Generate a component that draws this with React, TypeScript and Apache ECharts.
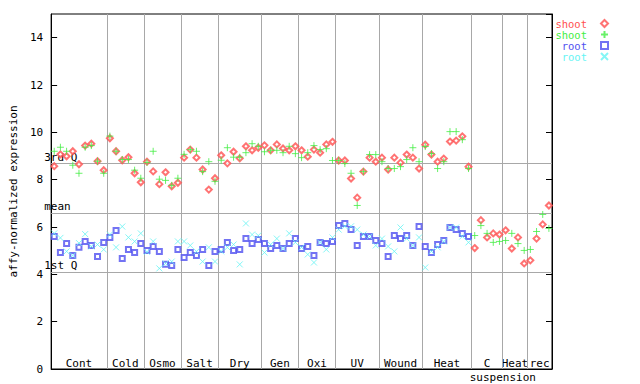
import React, { useEffect, useRef } from "react";
import * as echarts from "echarts";

const SECTIONS = ["Cont", "Cold", "Osmo", "Salt", "Dry", "Gen", "Oxi", "UV", "Wound", "Heat", "C", "Heat", "rec"];
const SECTION_COUNTS = [9, 6, 6, 6, 7, 6, 6, 7, 7, 8, 5, 4, 4];
const GROUP_LABEL = "suspension";
const GROUP_START_SECTION = 10;

const QUARTILES = [
  { name: "3rd Q", value: 8.68 },
  { name: "mean", value: 6.59 },
  { name: "1st Q", value: 4.08 },
];

const Y_TICKS = { min: 0, max: 15, interval: 2 };

const shoot1 = [
  8.57, 9.07, 8.99, 9.2, 8.65, 9.44, 9.52, 8.78, 8.4,
  9.75, 9.2, 8.82, 8.95, 8.27, 7.89,
  8.76, 8.35, 7.81, 8.31, 7.72, 7.87,
  8.93, 9.27, 8.93, 8.43, 7.58, 8.06,
  9.03, 8.69, 9.18, 8.9, 9.41, 9.24, 9.35,
  9.45, 9.24, 9.49, 9.32, 9.24, 9.41,
  9.24, 8.97, 9.27, 9.14, 9.49, 9.6,
  8.81, 8.81, 8.05, 7.24, 8.34, 8.93, 8.76,
  8.93, 8.43, 8.93, 8.72, 9.06, 8.93, 8.47,
  9.48, 9.06, 8.76, 8.89, 9.61, 9.65, 9.83, 8.55,
  5.11, 6.29, 5.56, 5.73, 5.68,
  5.86, 5.09, 5.56, 4.46,
  4.59, 5.51, 6.11, 6.91,
];

const shoot2 = [
  9.2, 9.37, 9.2, 8.61, 8.27, 9.37, 9.44, 8.78, 8.27,
  9.84, 9.2, 8.85, 8.85, 8.4, 8.06,
  8.73, 9.2, 8.02, 7.97, 7.76, 8.06,
  9.07, 9.27, 9.2, 8.34, 8.76, 7.93,
  8.82, 9.35, 8.95, 8.95, 9.14, 9.52, 9.41,
  9.18, 9.24, 9.24, 9.14, 9.41, 9.1,
  8.93, 9.14, 9.44, 9.27, 9.31, 8.81,
  8.81, 8.68, 8.27, 6.91, 8.34, 9.06, 9.06,
  8.76, 8.47, 8.47, 8.55, 8.85, 9.35, 8.76,
  9.4, 9.1, 8.47, 8.76, 10.03, 10.03, 9.69, 8.47,
  5.64, 6.06, 5.73, 5.35, 5.39,
  5.43, 5.73, 5.3, 5.01,
  5.05, 5.81, 6.53, 5.94,
];

const root1 = [
  5.6, 4.92, 5.3, 4.8, 5.14, 5.39, 5.22, 4.75, 5.35,
  5.56, 5.85, 4.67, 5.05, 4.92, 5.3,
  5.01, 5.18, 4.97, 4.43, 4.37, 5.05,
  4.71, 4.92, 4.8, 5.05, 4.37, 4.97,
  5.05, 5.35, 5.01, 5.05, 5.51, 5.3, 5.47,
  5.3, 5.09, 5.22, 5.09, 5.3, 5.51,
  5.09, 5.18, 4.8, 5.35, 5.3, 5.39,
  6.06, 6.15, 5.89, 5.22, 5.6, 5.6, 5.43,
  5.3, 4.75, 5.64, 5.51, 5.64, 5.22, 6.02,
  5.18, 4.92, 5.26, 5.43, 5.98, 5.89, 5.73, 5.6,
];

const root2 = [
  5.73, 5.54, 4.97, 4.8, 5.32, 5.7, 5.18, 5.26, 5.05,
  5.68, 5.14, 6.02, 5.56, 5.39, 5.73,
  4.95, 5.39, 4.25, 4.46, 4.54, 5.39,
  5.39, 5.22, 4.97, 4.54, 5.14, 4.54,
  4.97, 5.14, 5.26, 4.42, 6.15, 5.68, 5.64,
  4.92, 5.26, 5.51, 5.09, 5.73, 5.35,
  5.14, 4.84, 4.5, 5.35, 5.05, 5.56,
  5.89, 6.03, 6.03, 5.89, 5.68, 5.6, 5.22,
  5.51, 5.18, 4.97, 5.98, 5.51, 5.22, 5.56,
  4.29, 4.97, 5.14, 5.39, 5.98, 5.98, 5.6, 5.35,
];

const SERIES_INFO = [
  { id: "s1", label: "shoot", data: shoot1, color: "#ff5050", symbol: "emptyDiamond", size: 6 },
  { id: "s2", label: "shoot", data: shoot2, color: "#44ee44", symbol: "path://M0,4L8,4M4,0L4,8", size: 7 },
  { id: "r1", label: "root", data: root1, color: "#5050f0", symbol: "emptyRect", size: 5 },
  { id: "r2", label: "root", data: root2, color: "#66f4f4", symbol: "path://M0,0L8,8M8,0L0,8", size: 6 },
];

const FONT = "DejaVu Sans Mono";

export default function App() {
  const ref = useRef<HTMLDivElement>(null);
  useEffect(() => {
    if (!ref.current) return;
    const chart = echarts.init(ref.current, null, { renderer: "svg" });

    const bounds: number[] = [0];
    SECTION_COUNTS.forEach((c) => bounds.push(bounds[bounds.length - 1] + c));
    const total = bounds[bounds.length - 1];

    const separators = bounds.slice(1, -1).map((b) => ({
      xAxis: b,
      lineStyle: { color: "#a8a8a8", width: 1, type: "solid" },
      label: { show: false },
    }));
    const quartileLines = QUARTILES.map((q) => ({
      yAxis: q.value,
      name: q.name,
      lineStyle: { color: "#a8a8a8", width: 1, type: "solid" },
      label: {
        show: true,
        position: "insideStartTop",
        formatter: q.name,
        color: "#000",
        fontFamily: FONT,
        fontSize: 11,
        distance: [0, 1],
        offset: [-7, 0],
      },
    }));

    const areas: any[] = SECTIONS.map((name, k) => [
      { xAxis: bounds[k], name },
      { xAxis: bounds[k + 1] },
    ]);
    areas.push([
      {
        xAxis: bounds[GROUP_START_SECTION],
        name: GROUP_LABEL,
        label: { offset: [-9, 14] },
      },
      { xAxis: total },
    ]);

    const richMap: any = {};
    SERIES_INFO.forEach((s) => {
      richMap[s.id] = { color: s.color, fontFamily: FONT, fontSize: 10.5, lineHeight: 12, padding: [0, 9, 0, 0] };
    });

    const series: any[] = SERIES_INFO.map((s, idx) => {
      const o: any = {
        type: "scatter",
        name: s.id,
        data: s.data.map((v, i) => [i + 0.5, v]),
        symbol: s.symbol,
        symbolSize: s.size,
        itemStyle: { color: s.color, borderColor: s.color, borderWidth: 1 },
        z: 5 + idx,
      };
      if (idx === 0) {
        o.markLine = {
          silent: true,
          symbol: "none",
          animation: false,
          data: [...separators, ...quartileLines],
        };
        o.markArea = {
          silent: true,
          itemStyle: { color: "rgba(0,0,0,0)" },
          label: {
            show: true,
            position: "insideBottom",
            distance: 0,
            color: "#000",
            fontFamily: FONT,
            fontSize: 11,
          },
          data: areas,
        };
      }
      return o;
    });

    chart.setOption({
      animation: false,
      backgroundColor: "#fff",
      grid: {
        left: 44,
        right: 88,
        top: 14,
        bottom: 15,
        show: true,
        borderColor: "#000",
        borderWidth: 1,
        backgroundColor: "rgba(0,0,0,0)",
      },
      legend: {
        orient: "vertical",
        right: 26,
        top: 13,
        align: "right",
        itemWidth: 7,
        itemHeight: 7,
        itemGap: 0,
        data: SERIES_INFO.map((s) => s.id),
        formatter: (name: string) => {
          const s = SERIES_INFO.find((x) => x.id === name)!;
          return `{${s.id}|${s.label}}`;
        },
        textStyle: { fontFamily: FONT, fontSize: 10.5, rich: richMap },
      },
      xAxis: {
        type: "value",
        min: 0,
        max: total,
        axisLine: { show: true, lineStyle: { color: "#000" } },
        axisTick: { show: false },
        axisLabel: { show: false },
        splitLine: { show: false },
      },
      yAxis: [
        {
          type: "value",
          min: Y_TICKS.min,
          max: Y_TICKS.max,
          interval: Y_TICKS.interval,
          name: "affy-normalized expression",
          nameLocation: "middle",
          nameGap: 29,
          nameTextStyle: { fontFamily: FONT, fontSize: 11, color: "#000" },
          axisLine: { show: true, lineStyle: { color: "#000" } },
          axisTick: { show: true, inside: true, length: 6, lineStyle: { color: "#000" } },
          axisLabel: { fontFamily: FONT, fontSize: 11, color: "#000", margin: 8, showMaxLabel: false },
          splitLine: { show: false },
        },
        {
          type: "value",
          position: "right",
          min: Y_TICKS.min,
          max: Y_TICKS.max,
          interval: Y_TICKS.interval,
          axisLine: { show: true, lineStyle: { color: "#000" } },
          axisTick: { show: true, inside: true, length: 6, lineStyle: { color: "#000" } },
          axisLabel: { show: false },
          splitLine: { show: false },
        },
      ],
      series,
    });
    return () => chart.dispose();
  }, []);
  return (
    <div
      ref={ref}
      style={{ position: "absolute", left: 0, top: 0, width: 640, height: 384, background: "#fff" }}
    />
  );
}
